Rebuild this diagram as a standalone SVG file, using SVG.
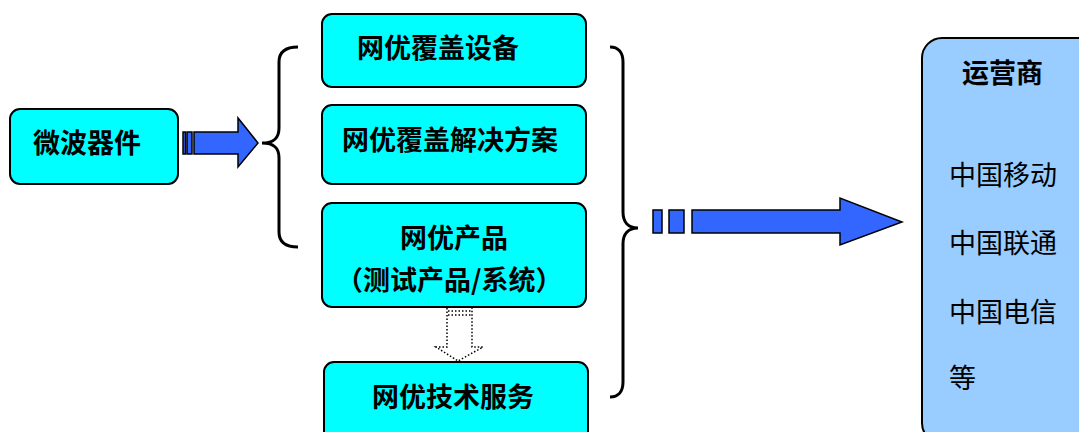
<svg xmlns="http://www.w3.org/2000/svg" width="1079" height="432" viewBox="0 0 1079 432">
<style>
.box{fill:#00FFFF;stroke:#000;stroke-width:2}
.op{fill:#99CCFF;stroke:#000;stroke-width:2}
.t{font-family:"Noto Sans CJK SC","Liberation Sans",sans-serif;font-size:27px;fill:#000}
.b{font-weight:bold}
.arr{fill:#3366FF;stroke:#000;stroke-width:1.5}
.brace{fill:none;stroke:#000;stroke-width:3}
.dot{fill:none;stroke:#000;stroke-width:1.5;stroke-dasharray:1.5 2}
</style>
<rect width="1079" height="432" fill="#fff"/>
<g id="n-microwave">
<rect class="box" x="10" y="109" width="168" height="75" rx="10"/>
<text class="t b" x="33" y="153">微波器件</text>
</g>
<g id="n-equip">
<rect class="box" x="322" y="14" width="264" height="73" rx="10"/>
<text class="t b" x="357" y="58">网优覆盖设备</text>
</g>
<g id="n-solution">
<rect class="box" x="322" y="105" width="264" height="79" rx="10"/>
<text class="t b" x="342" y="150">网优覆盖解决方案</text>
</g>
<g id="n-product">
<rect class="box" x="322" y="203" width="264" height="104" rx="10"/>
<text class="t b" x="400" y="248">网优产品</text>
<text class="t b" x="336" y="290">（测试产品/系统）</text>
</g>
<g id="n-service">
<rect class="box" x="324" y="362" width="264" height="90" rx="10"/>
<text class="t b" x="372" y="407">网优技术服务</text>
</g>
<g id="n-operator">
<rect class="op" x="922" y="38" width="175" height="405" rx="20"/>
<text class="t b" x="962" y="83">运营商</text>
<text class="t" x="949" y="185">中国移动</text>
<text class="t" x="949" y="253">中国联通</text>
<text class="t" x="949" y="322">中国电信</text>
<text class="t" x="949" y="388">等</text>
</g>
<g id="connectors">
<rect class="arr" x="183" y="132" width="2.5" height="22"/>
<rect class="arr" x="187" y="132" width="5" height="22"/>
<path class="arr" d="M194 132 H238 V118 L258 143 L238 167 V154 H194 Z"/>
<path class="brace" d="M298 47 C285 47 279 52 279 62 V128 C279 138 274 143 262 143 C274 143 279 148 279 158 V232 C279 242 285 247 298 247"/>
<path class="brace" d="M610 47 C618 47 623 52 623 62 V212 C623 222 628 228 638 228 C628 228 623 234 623 244 V382 C623 392 618 397 610 397"/>
<path class="dot" d="M447 308 V347 H436 L458 361 L483 347 H472 V308"/>
<path class="dot" d="M448 311 H471 M448 315 H471"/>
<rect class="arr" x="653" y="210" width="9" height="23"/>
<rect class="arr" x="669" y="210" width="15" height="23"/>
<path class="arr" d="M692 210 H840 V198 L902 222 L840 245 V233 H692 Z"/>
</g>
</svg>
